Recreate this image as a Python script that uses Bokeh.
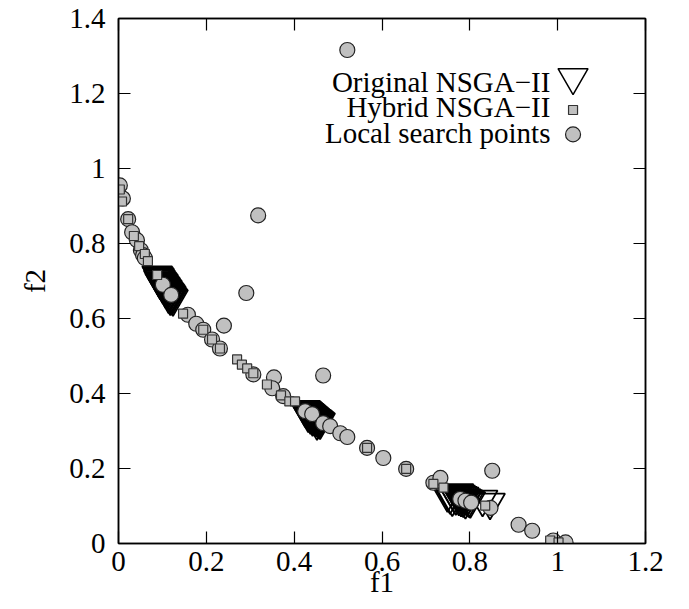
from bokeh.plotting import figure
from bokeh.models import FixedTicker, LinearAxis, CustomJSTickFormatter, Range1d
from bokeh.embed import file_html
from bokeh.resources import INLINE

# ---------------- data ----------------
orig_f1 = [0.088, 0.090, 0.092, 0.093, 0.095, 0.097, 0.099, 0.101, 0.102, 0.104, 0.106, 0.108, 0.110, 0.111,
           0.113, 0.115, 0.117, 0.119, 0.120, 0.122, 0.124,
           0.092, 0.095, 0.101, 0.108, 0.114, 0.118,
           0.425, 0.427, 0.429, 0.431, 0.433, 0.435, 0.437, 0.439, 0.441, 0.443, 0.445, 0.447, 0.449, 0.451,
           0.453, 0.455, 0.457, 0.459,
           0.432, 0.437, 0.442, 0.452,
           0.749, 0.755, 0.760, 0.765, 0.770, 0.774, 0.778, 0.782, 0.786, 0.790, 0.794, 0.798, 0.801,
           0.768, 0.775, 0.780, 0.785, 0.790,
           0.829, 0.846]
orig_f2 = [0.716, 0.713, 0.710, 0.707, 0.704, 0.700, 0.697, 0.694, 0.691, 0.688, 0.685, 0.681, 0.678, 0.675,
           0.672, 0.669, 0.666, 0.662, 0.659, 0.656, 0.653,
           0.704, 0.697, 0.686, 0.673, 0.660, 0.655,
           0.357, 0.355, 0.353, 0.351, 0.349, 0.347, 0.345, 0.343, 0.341, 0.339, 0.337, 0.335, 0.333, 0.332,
           0.330, 0.328, 0.326, 0.324,
           0.343, 0.338, 0.333, 0.322,
           0.130, 0.125, 0.119, 0.128, 0.133, 0.135, 0.131, 0.128, 0.126, 0.122, 0.119, 0.116, 0.114,
           0.122, 0.121, 0.118, 0.116, 0.112,
           0.118, 0.110]

hyb_f1 = [0.003, 0.008, 0.022, 0.035, 0.047, 0.060, 0.067, 0.088, 0.147, 0.193, 0.213, 0.231, 0.270, 0.281,
          0.293, 0.307, 0.338, 0.370, 0.389, 0.402, 0.566, 0.655, 0.717, 0.740, 0.835, 0.983, 1.002]
hyb_f2 = [0.944, 0.912, 0.865, 0.820, 0.793, 0.772, 0.753, 0.716, 0.613, 0.570, 0.544, 0.520, 0.491, 0.477,
          0.467, 0.454, 0.424, 0.395, 0.379, 0.379, 0.255, 0.199, 0.159, 0.149, 0.101, 0.008, 0.003]

loc_f1 = [0.003, 0.010, 0.022, 0.031, 0.042, 0.051, 0.056, 0.060, 0.101, 0.120, 0.158, 0.177, 0.193, 0.213,
          0.231, 0.240, 0.291, 0.318, 0.521, 0.307, 0.354, 0.350, 0.375, 0.425, 0.441, 0.466, 0.482, 0.505,
          0.521, 0.466, 0.566, 0.603, 0.655, 0.717, 0.733, 0.778, 0.790, 0.803, 0.847, 0.851, 0.911, 0.942,
          0.990, 1.018]
loc_f2 = [0.955, 0.920, 0.865, 0.830, 0.809, 0.782, 0.769, 0.761, 0.690, 0.663, 0.610, 0.586, 0.570, 0.544,
          0.520, 0.581, 0.668, 0.875, 1.316, 0.451, 0.443, 0.414, 0.393, 0.353, 0.345, 0.321, 0.313, 0.294,
          0.284, 0.448, 0.255, 0.228, 0.199, 0.162, 0.175, 0.119, 0.114, 0.109, 0.095, 0.194, 0.050, 0.034,
          0.008, 0.003]

series_names = ["Original NSGA\u2212II", "Hybrid NSGA\u2212II", "Local search points"]
x_ticks = [0, 0.2, 0.4, 0.6, 0.8, 1.0, 1.2]
y_ticks = [0, 0.2, 0.4, 0.6, 0.8, 1.0, 1.2, 1.4]

# ---------------- style ----------------
FONT = "Liberation Serif"
FS = "29px"
GRAY = "#c0c0c0"

p = figure(width=689, height=609, output_backend="svg", toolbar_location=None,
           x_range=Range1d(0, 1.2), y_range=Range1d(0, 1.4),
           min_border_left=118, min_border_right=44, min_border_top=18, min_border_bottom=66)
p.background_fill_color = "white"
p.border_fill_color = "white"
p.outline_line_color = "black"
p.outline_line_width = 1.5
p.xgrid.visible = False
p.ygrid.visible = False

fmt = CustomJSTickFormatter(code="var s = tick.toFixed(1); return s.endsWith('.0') ? s.slice(0, -2) : s;")

def style_axis(ax, ticks, show_labels):
    ax.ticker = FixedTicker(ticks=ticks)
    ax.formatter = fmt
    ax.major_tick_in = 12
    ax.major_tick_out = 0
    ax.minor_tick_in = 0
    ax.minor_tick_out = 0
    ax.major_tick_line_width = 1.2
    ax.axis_line_width = 1.5
    ax.major_label_text_font = FONT
    ax.axis_label_text_font = FONT
    ax.axis_label_text_font_size = FS
    ax.axis_label_text_font_style = "normal"
    ax.axis_label_text_color = "black"
    if show_labels:
        ax.major_label_text_font_size = FS
        ax.major_label_text_color = "black"
    else:
        ax.major_label_text_font_size = "1px"
        ax.major_label_text_color = None
        ax.major_label_standoff = 0

style_axis(p.xaxis[0], x_ticks, True)
style_axis(p.yaxis[0], y_ticks, True)
p.xaxis[0].axis_label = "f1"
p.yaxis[0].axis_label = "f2"
p.xaxis[0].major_label_standoff = 8
p.xaxis[0].axis_label_standoff = -8
p.yaxis[0].major_label_standoff = 13
p.yaxis[0].axis_label_standoff = 15

top_ax = LinearAxis()
right_ax = LinearAxis()
style_axis(top_ax, x_ticks, False)
style_axis(right_ax, y_ticks, False)
p.add_layout(top_ax, "above")
p.add_layout(right_ax, "right")

# ---------------- data marks ----------------
p.scatter(orig_f1, orig_f2, marker="inverted_triangle", size=30,
          fill_color=None, line_color="black", line_width=1.8)
p.scatter(loc_f1, loc_f2, marker="circle", size=15,
          fill_color=GRAY, line_color="#222222", line_width=1.2)
p.scatter(hyb_f1, hyb_f2, marker="square", size=9,
          fill_color=GRAY, line_color="#333333", line_width=1.2)

# ---------------- key (text right-aligned, sample on the right) ----------------
key_text_x = 0.9835
key_sample_x = 1.035
key_rows_y = [1.231, 1.164, 1.096]
p.text(x=[key_text_x] * 3, y=key_rows_y, text=series_names,
       text_align="right", text_baseline="middle",
       text_font={"value": FONT}, text_font_size={"value": "29px"}, text_color="black")
p.scatter([key_sample_x], [key_rows_y[0] + 0.012], marker="inverted_triangle", size=30,
          fill_color=None, line_color="black", line_width=1.5)
p.scatter([key_sample_x], [key_rows_y[1] - 0.008], marker="square", size=9,
          fill_color=GRAY, line_color="#333333", line_width=1.2)
p.scatter([key_sample_x], [key_rows_y[2] - 0.005], marker="circle", size=15,
          fill_color=GRAY, line_color="#222222", line_width=1.2)

open("out.html", "w").write(file_html(p, INLINE))
